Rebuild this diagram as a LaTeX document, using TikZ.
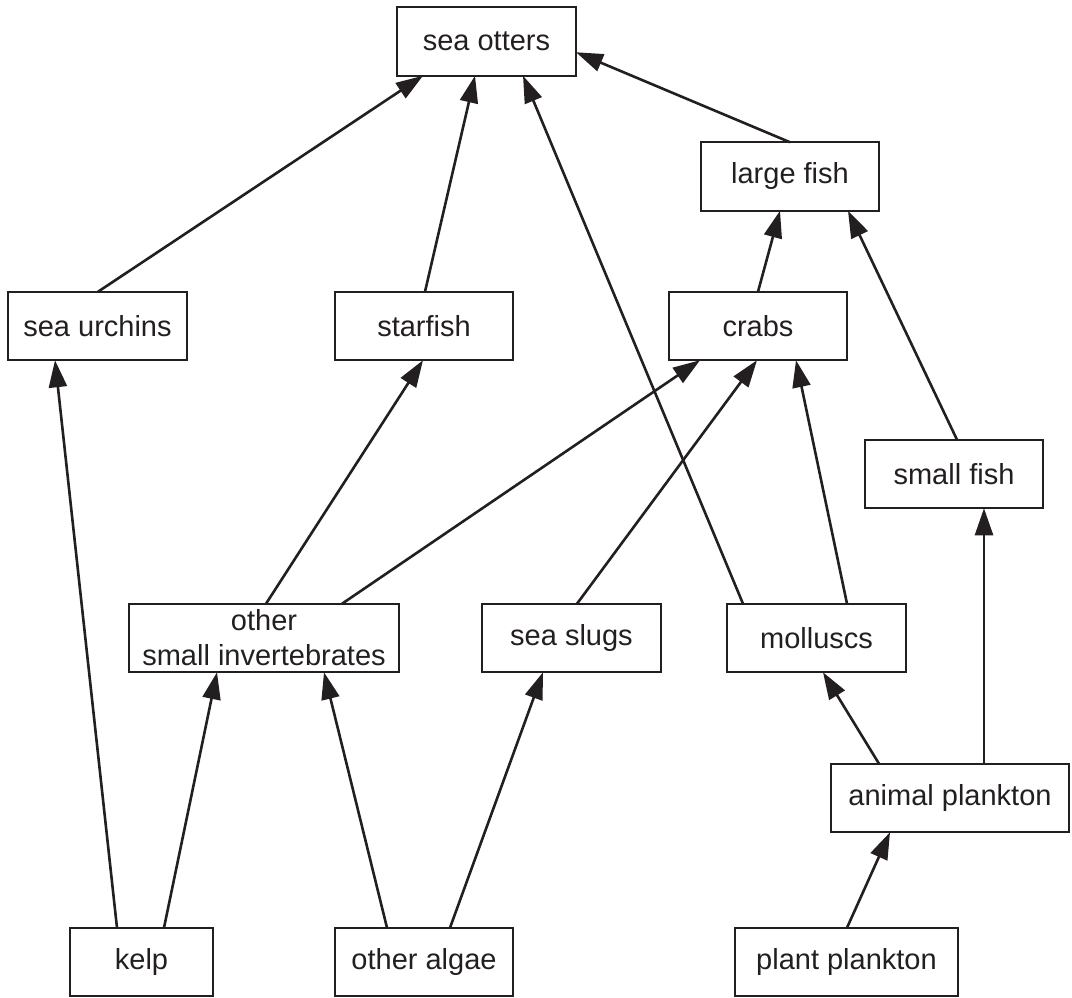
\documentclass[tikz,border=0pt]{standalone}
\usepackage{fontspec}
\setmainfont{Liberation Sans}
\usetikzlibrary{arrows.meta,calc}
\definecolor{ink}{HTML}{231F20}
\begin{document}
\begin{tikzpicture}[x=1pt,y=-1pt,
  box/.style={draw=ink,line width=2.4pt,rectangle,inner sep=0pt,outer sep=0pt,
    minimum height=68.5pt,align=center,text=ink,
    font=\fontsize{29}{35}\selectfont},
  feed/.style={draw=ink,line width=2.6pt,-{Triangle[length=27pt,width=18pt]}}]
\useasboundingbox (0,0) rectangle (1072,998);
\node[box,minimum width=179pt] (otters) at (486.5,41.5) {sea otters};
\node[box,minimum width=178pt] (largefish) at (790,176.5) {large fish};
\node[box,minimum width=179pt] (urchins) at (97.5,326) {sea urchins};
\node[box,minimum width=178pt] (starfish) at (424,326) {starfish};
\node[box,minimum width=178pt] (crabs) at (758,326) {crabs};
\node[box,minimum width=178pt] (smallfish) at (954,474) {small fish};
\node[box,minimum width=270pt] (osi) at (264,638) {other\\small invertebrates};
\node[box,minimum width=179pt] (seaslugs) at (571.5,638) {sea slugs};
\node[box,minimum width=179pt] (molluscs) at (816.5,638) {molluscs};
\node[box,minimum width=238pt] (animalpl) at (950,798) {animal plankton};
\node[box,minimum width=143pt] (kelp) at (141.5,962) {kelp};
\node[box,minimum width=178pt] (algae) at (424,962) {other algae};
\node[box,minimum width=223pt] (plantpl) at (846.5,962) {plant plankton};
\draw[feed] ($(urchins.north west)+(90,0)$) -- ($(otters.south west)+(26,0)$);
\draw[feed] ($(starfish.north west)+(90,0)$) -- ($(otters.south west)+(78,0)$);
\draw[feed] ($(molluscs.north west)+(16,0)$) -- ($(otters.south west)+(126,0)$);
\draw[feed] (largefish.north) -- ($(otters.north east)+(0,45)$);
\draw[feed] (crabs.north) -- ($(largefish.south west)+(79,0)$);
\draw[feed] ($(smallfish.north west)+(92,0)$) -- ($(largefish.south west)+(147,0)$);
\draw[feed] ($(osi.north west)+(137,0)$) -- ($(starfish.south west)+(88,0)$);
\draw[feed] ($(osi.north west)+(213,0)$) -- ($(crabs.south west)+(31,0)$);
\draw[feed] ($(seaslugs.north west)+(95,0)$) -- ($(crabs.south west)+(88,0)$);
\draw[feed] ($(molluscs.north west)+(120,0)$) -- ($(crabs.south west)+(127,0)$);
\draw[feed] ($(animalpl.north west)+(48,0)$) -- ($(molluscs.south west)+(96,0)$);
\draw[feed] ($(animalpl.north west)+(153,0)$) -- ($(smallfish.south west)+(119,0)$);
\draw[feed] ($(plantpl.north west)+(112,0)$) -- ($(animalpl.south west)+(59,0)$);
\draw[feed] ($(kelp.north west)+(47,0)$) -- ($(urchins.south west)+(47,0)$);
\draw[feed] ($(kelp.north west)+(94,0)$) -- ($(osi.south west)+(88,0)$);
\draw[feed] ($(algae.north west)+(52,0)$) -- ($(osi.south west)+(195,0)$);
\draw[feed] ($(algae.north west)+(115,0)$) -- ($(seaslugs.south west)+(61,0)$);
\end{tikzpicture}
\end{document}
